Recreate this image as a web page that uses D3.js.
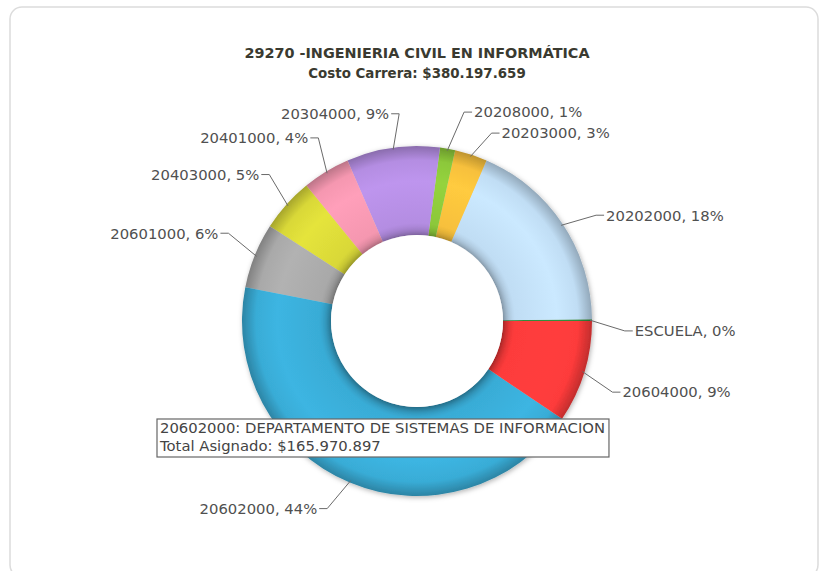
<!DOCTYPE html>
<html>
<head>
<meta charset="utf-8">
<script src="https://cdn.jsdelivr.net/npm/d3@7/dist/d3.min.js"></script>
<style>
  html, body { margin: 0; padding: 0; background: #ffffff; }
  svg { display: block; font-family: "DejaVu Sans", Verdana, sans-serif; }
</style>
</head>
<body>
<svg id="chart" width="822" height="571"></svg>
<script>
// ---- data ----
const chartTitle = "29270 -INGENIERIA CIVIL EN INFORMÁTICA";
const chartSubtitle = "Costo Carrera: $380.197.659";
const categories = ["ESCUELA", "20202000", "20203000", "20208000", "20304000",
                    "20401000", "20403000", "20601000", "20602000", "20604000"];
const values = [570000, 69766000, 11406000, 5323000, 32697000,
                16729000, 19010000, 22812000, 165970897, 35913762];
const colors = ["#2f8a3c", "#c0ddf4", "#f7c03c", "#8cc83a", "#b48de2",
                "#f597b0", "#d9d838", "#a9a9a9", "#39acd6", "#fd3b3b"];
const tooltipCategory = "20602000";
const tooltipName = "DEPARTAMENTO DE SISTEMAS DE INFORMACION";
const tooltipPrefix = "Total Asignado: ";

// ---- layout ----
const cx = 417, cy = 321, R = 175, r0 = 86;
const svg = d3.select("#chart");
const defs = svg.append("defs");

// frame
svg.append("rect").attr("x", 10).attr("y", 7).attr("width", 808).attr("height", 570)
  .attr("rx", 12).attr("fill", "#fff").attr("stroke", "#dcdcdc").attr("stroke-width", 1.5);

// titles
svg.append("text").attr("x", cx).attr("y", 58).attr("text-anchor", "middle")
  .attr("font-size", 14.4).attr("font-weight", "bold").attr("fill", "#3a3a30").text(chartTitle);
svg.append("text").attr("x", cx).attr("y", 78).attr("text-anchor", "middle")
  .attr("font-size", 13.4).attr("font-weight", "bold").attr("fill", "#3a3a30").text(chartSubtitle);

const total = d3.sum(values);
const data = categories.map((c, i) => ({ cat: c, value: values[i], color: colors[i] }));

const pie = d3.pie().value(d => d.value).sort(null)
  .startAngle(Math.PI / 2).endAngle(Math.PI / 2 - 2 * Math.PI);
const arcs = pie(data);
const arc = d3.arc().innerRadius(r0).outerRadius(R);

// filters
const f1 = defs.append("filter").attr("id", "sh").attr("x", "-20%").attr("y", "-20%").attr("width", "140%").attr("height", "140%");
f1.append("feDropShadow").attr("dx", 1).attr("dy", 1.5).attr("stdDeviation", 2.5)
  .attr("flood-color", "#000").attr("flood-opacity", 0.3);
const f2 = defs.append("filter").attr("id", "hole").attr("x", "-30%").attr("y", "-30%").attr("width", "160%").attr("height", "160%");
f2.append("feDropShadow").attr("dx", 0).attr("dy", 1).attr("stdDeviation", 4)
  .attr("flood-color", "#000").attr("flood-opacity", 0.45);

// gradients
arcs.forEach((a, i) => {
  const c = d3.color(a.data.color);
  const g = defs.append("radialGradient").attr("id", "g" + i)
    .attr("gradientUnits", "userSpaceOnUse").attr("cx", 0).attr("cy", 0).attr("r", R);
  const stops = [
    [r0 / R, c.darker(0.45)],
    [(r0 + 12) / R, c],
    [0.8, c.brighter(0.15)],
    [0.92, c],
    [1.0, c.darker(0.75)]
  ];
  stops.forEach(s => g.append("stop").attr("offset", s[0]).attr("stop-color", s[1].formatHex()));
});

const gPie = svg.append("g").attr("transform", `translate(${cx},${cy})`);
gPie.append("g").attr("filter", "url(#sh)")
  .selectAll("path").data(arcs).join("path")
  .attr("d", arc)
  .attr("fill", (d, i) => `url(#g${i})`);

// inner hole with shadow onto ring
gPie.append("circle").attr("r", r0).attr("fill", "#fff").attr("filter", "url(#hole)");
gPie.append("circle").attr("r", r0 - 0.5).attr("fill", "#fff");

// labels with connectors (smart-label style: slight clockwise shift, then de-overlap)
const labelR = 208, labelShift = 3 * Math.PI / 180, minGap = 21;
const labs = arcs.map(a => {
  const mid = (a.startAngle + a.endAngle) / 2;
  const la = mid + labelShift;
  return {
    a, mid,
    right: Math.sin(la) >= 0,
    x: Math.sin(la) * labelR,
    y: -Math.cos(la) * labelR
  };
});
[true, false].forEach(side => {
  const s = labs.filter(l => l.right === side).sort((p, q) => p.y - q.y);
  for (let it = 0; it < 50; it++) {
    let moved = false;
    for (let k = 1; k < s.length; k++) {
      const d = s[k].y - s[k - 1].y;
      if (d < minGap) {
        const push = (minGap - d) / 2;
        s[k - 1].y -= push; s[k].y += push; moved = true;
      }
    }
    if (!moved) break;
  }
});

const gLab = gPie.append("g");
labs.forEach(l => {
  const sx = Math.sin(l.mid), sy = -Math.cos(l.mid);
  const p0 = [sx * (R - 2), sy * (R - 2)];
  const p1 = [l.x, l.y];
  const p2 = [p1[0] + (l.right ? 8 : -8), p1[1]];
  gLab.append("path")
    .attr("d", d3.line()([p0, p1, p2]))
    .attr("fill", "none").attr("stroke", "#6a6a6a").attr("stroke-width", 1);
  const pct = Math.round(l.a.data.value / total * 100);
  gLab.append("text")
    .attr("x", p1[0] + (l.right ? 10 : -10)).attr("y", p1[1])
    .attr("dy", "0.36em")
    .attr("text-anchor", l.right ? "start" : "end")
    .attr("font-size", 14.8).attr("fill", "#505050")
    .text(`${l.a.data.cat}, ${pct}%`);
});

// tooltip for highlighted slice
const tipD = data.find(d => d.cat === tooltipCategory);
const fmt = v => "$" + d3.format(",")(v).replace(/,/g, ".");
const tip = svg.append("g").attr("transform", "translate(157,419)");
const tipRect = tip.append("rect").attr("fill", "#fff").attr("stroke", "#666").attr("stroke-width", 1.2);
const tipText = tip.append("text").attr("font-size", 14.8).attr("fill", "#444");
tipText.append("tspan").attr("x", 3).attr("y", 14).text(`${tipD.cat}: ${tooltipName}`);
tipText.append("tspan").attr("x", 3).attr("y", 32).text(tooltipPrefix + fmt(tipD.value));
const bb = tipText.node().getBBox();
tipRect.attr("x", 0).attr("y", 0).attr("width", bb.width + 6).attr("height", 38);
</script>
</body>
</html>
